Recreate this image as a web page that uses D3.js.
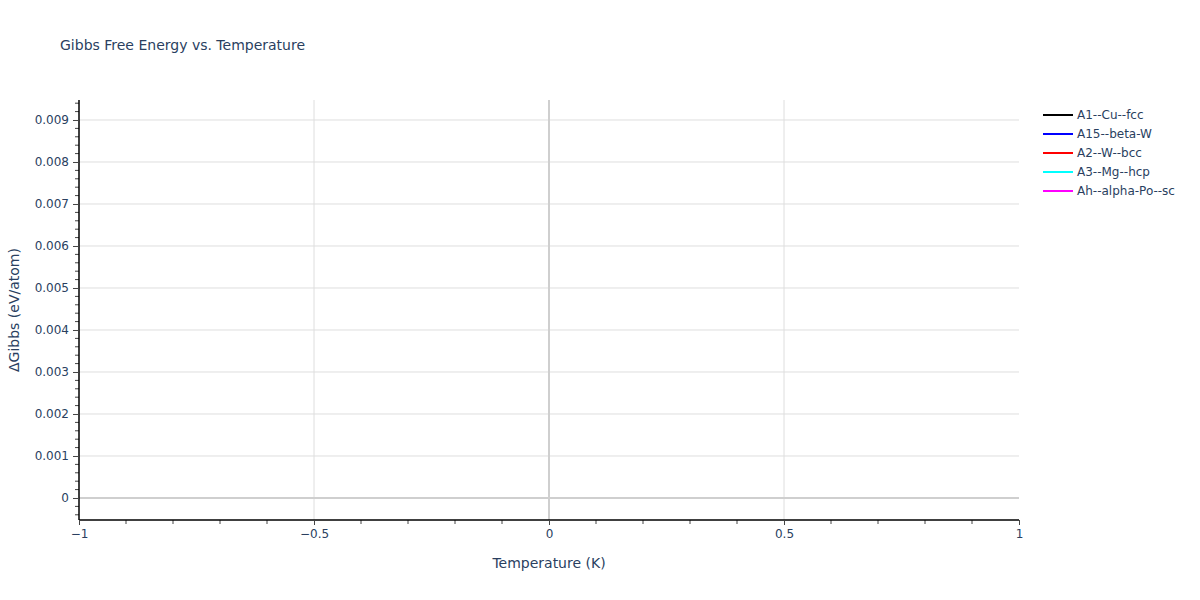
<!DOCTYPE html>
<html>
<head>
<meta charset="utf-8">
<script src="https://cdn.jsdelivr.net/npm/d3@7"></script>
<style>
  body { margin: 0; background: #fff; }
  text { font-family: "DejaVu Sans", Verdana, sans-serif; fill: #2a3f5f; }
</style>
</head>
<body>
<div id="chart"></div>
<script>
// Data (series have no visible extent, single point at origin)
var seriesNames = ["A1--Cu--fcc", "A15--beta-W", "A2--W--bcc", "A3--Mg--hcp", "Ah--alpha-Po--sc"];
var seriesColors = ["black", "blue", "red", "cyan", "magenta"];
var temperature = [0];
var gibbsA1 = [0];
var gibbsA15 = [0];
var gibbsA2 = [0];
var gibbsA3 = [0];
var gibbsAh = [0];
var xTicks = [-1, -0.5, 0, 0.5, 1];
var yTicks = [0, 0.001, 0.002, 0.003, 0.004, 0.005, 0.006, 0.007, 0.008, 0.009];

var allSeries = [gibbsA1, gibbsA15, gibbsA2, gibbsA3, gibbsAh];

var svgWidth = 1200, svgHeight = 600;
var margin = { top: 100, right: 181, bottom: 80, left: 79 };
var width = svgWidth - margin.left - margin.right;
var height = svgHeight - margin.top - margin.bottom;
var fontFam = "'DejaVu Sans', Verdana, sans-serif";

var svg = d3.select("#chart").append("svg")
    .attr("width", svgWidth)
    .attr("height", svgHeight);

var chartGroup = svg.append("g")
    .attr("transform", `translate(${margin.left}, ${margin.top})`);

var xScale = d3.scaleLinear().domain([-1, 1]).range([0, width]);
var yScale = d3.scaleLinear().domain([-0.000524, 0.009476]).range([height, 0]);

// grid lines
chartGroup.selectAll(".ygrid")
    .data(yTicks.filter(d => d !== 0))
    .enter().append("line")
    .attr("x1", 0).attr("x2", width)
    .attr("y1", d => yScale(d)).attr("y2", d => yScale(d))
    .attr("stroke", "#dedede").attr("stroke-width", 1);

chartGroup.selectAll(".xgrid")
    .data(xTicks.filter(d => d !== 0 && d !== -1 && d !== 1))
    .enter().append("line")
    .attr("y1", 0).attr("y2", height)
    .attr("x1", d => xScale(d)).attr("x2", d => xScale(d))
    .attr("stroke", "#dedede").attr("stroke-width", 1);

// zero lines
chartGroup.append("line")
    .attr("x1", 0).attr("x2", width)
    .attr("y1", yScale(0)).attr("y2", yScale(0))
    .attr("stroke", "#cfcfcf").attr("stroke-width", 2);
chartGroup.append("line")
    .attr("y1", 0).attr("y2", height)
    .attr("x1", xScale(0)).attr("x2", xScale(0))
    .attr("stroke", "#cfcfcf").attr("stroke-width", 2);

// series lines
var line = d3.line()
    .x((d, i) => xScale(temperature[i]))
    .y(d => yScale(d));

allSeries.forEach(function(s, i) {
    chartGroup.append("path")
        .datum(s)
        .attr("fill", "none")
        .attr("stroke", seriesColors[i])
        .attr("stroke-width", 2)
        .attr("d", line);
});

// minor ticks
var yMinor = d3.range(-4, 48).map(d => d * 0.0002).filter(d => d >= -0.0005 && d <= 0.0095 && Math.abs(d / 0.001 - Math.round(d / 0.001)) > 1e-6);
chartGroup.selectAll(".yminor")
    .data(yMinor)
    .enter().append("line")
    .attr("x1", -4).attr("x2", 0)
    .attr("y1", d => yScale(d)).attr("y2", d => yScale(d))
    .attr("stroke", "#444").attr("stroke-width", 1);

var xMinor = d3.range(-10, 11).map(d => d / 10).filter(d => Math.abs(d * 2 - Math.round(d * 2)) > 1e-6);
chartGroup.selectAll(".xminor")
    .data(xMinor)
    .enter().append("line")
    .attr("y1", height).attr("y2", height + 4)
    .attr("x1", d => xScale(d)).attr("x2", d => xScale(d))
    .attr("stroke", "#444").attr("stroke-width", 1);

// axes
var bottomAxis = d3.axisBottom(xScale)
    .tickValues(xTicks)
    .tickSize(5)
    .tickPadding(4)
    .tickFormat(d => d === 0 ? "0" : d3.format("")(d).replace("-", "\u2212"));
var leftAxis = d3.axisLeft(yScale)
    .tickValues(yTicks)
    .tickSize(6)
    .tickPadding(4)
    .tickFormat(d => d === 0 ? "0" : d3.format(".3f")(d));

var xAxisG = chartGroup.append("g")
    .attr("transform", `translate(0, ${height})`)
    .call(bottomAxis);
var yAxisG = chartGroup.append("g")
    .call(leftAxis);

[xAxisG, yAxisG].forEach(function(g) {
    g.select(".domain").attr("stroke", "#000").attr("stroke-width", 1.5);
    g.selectAll(".tick line").attr("stroke", "#444");
    g.selectAll(".tick text")
        .attr("fill", "#2a3f5f")
        .style("font-size", "12px")
        .style("font-family", fontFam);
});
yAxisG.select(".domain").attr("d", `M0,0V${height}`);
xAxisG.select(".domain").attr("d", `M0,0H${width}`);

// titles
svg.append("text")
    .attr("x", 60).attr("y", 50)
    .style("font-size", "14px")
    .text("Gibbs Free Energy vs. Temperature");

svg.append("text")
    .attr("x", margin.left + width / 2).attr("y", 568)
    .attr("text-anchor", "middle")
    .style("font-size", "14px")
    .text("Temperature (K)");

svg.append("text")
    .attr("transform", `translate(19, ${margin.top + height / 2}) rotate(-90)`)
    .attr("text-anchor", "middle")
    .style("font-size", "14px")
    .text("\u0394Gibbs (eV/atom)");

// legend
var legend = svg.append("g")
    .attr("transform", "translate(1043, 115)");
var items = legend.selectAll(".item")
    .data(seriesNames)
    .enter().append("g")
    .attr("transform", (d, i) => `translate(0, ${i * 19})`);
items.append("line")
    .attr("x1", 0).attr("x2", 30)
    .attr("y1", 0).attr("y2", 0)
    .attr("stroke", (d, i) => seriesColors[i])
    .attr("stroke-width", 2);
items.append("text")
    .attr("x", 34).attr("y", 4)
    .style("font-size", "12px")
    .text(d => d);
</script>
</body>
</html>
